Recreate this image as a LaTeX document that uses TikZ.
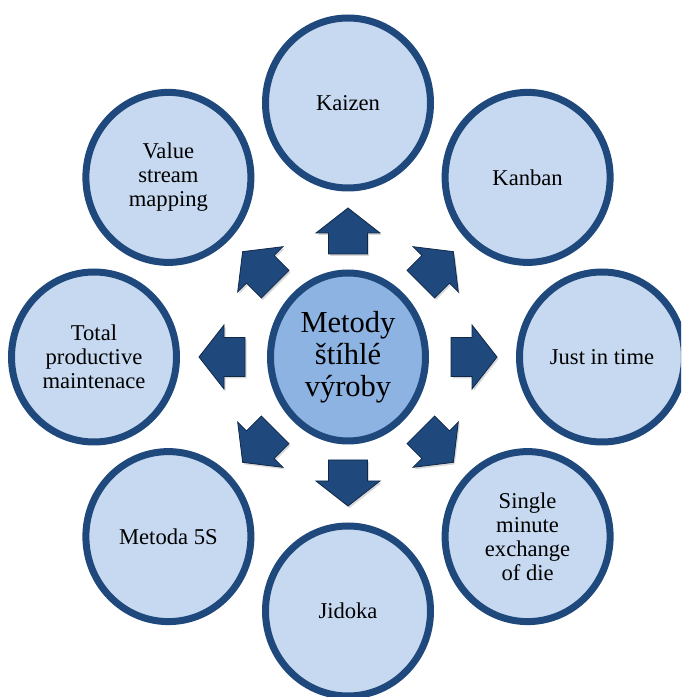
\documentclass[tikz,border=0pt]{standalone}
\usepackage{fontspec}
\setmainfont{Liberation Serif}
\usetikzlibrary{shapes.geometric,shadows}
\definecolor{outerfill}{RGB}{198,217,240}
\definecolor{ringblue}{RGB}{31,73,125}
\definecolor{centerfill}{RGB}{141,179,226}
\definecolor{arrowfill}{RGB}{31,73,125}
\definecolor{arrowline}{RGB}{16,40,72}
\begin{document}
\begin{tikzpicture}[x=1pt,y=1pt,
  softshadow/.style={drop shadow={opacity=0.22, shadow xshift=1.5pt, shadow yshift=-3pt}},
  outernode/.style={ellipse, draw=ringblue, line width=7pt, fill=outerfill,
    minimum width=165pt, minimum height=170pt, inner sep=0pt, align=center,
    font=\fontsize{22.6}{24}\selectfont, softshadow},
  centernode/.style={ellipse, draw=ringblue, line width=7pt, fill=centerfill,
    minimum width=155pt, minimum height=168pt, inner sep=0pt, align=center,
    font=\fontsize{30.5}{32}\selectfont, softshadow},
  blockarrow/.style={fill=arrowfill, draw=arrowline, line width=0.8pt, line join=miter,
    drop shadow={opacity=0.3, shadow xshift=1.5pt, shadow yshift=-2pt}}]
\useasboundingbox (0,0) rectangle (681,697);
\clip (0,0) rectangle (681,697);
\fill[white] (0,0) rectangle (681,697);

\node[centernode] (c) at (348,340) {Metody\\štíhlé\\výroby};

\node[outernode] (kaizen) at ([shift={(90:254)}]348,340) {Kaizen};
\node[outernode] (kanban) at ([shift={(45:254)}]348,340) {Kanban};
\node[outernode] (jit) at ([shift={(0:254)}]348,340) {Just in time};
\node[outernode] (smed) at ([shift={(-45:254)}]348,340) {Single\\minute\\exchange\\of die};
\node[outernode] (jidoka) at ([shift={(-90:254)}]348,340) {Jidoka};
\node[outernode] (fives) at ([shift={(-135:254)}]348,340) {Metoda 5S};
\node[outernode] (tpm) at ([shift={(180:254)}]348,340) {Total\\productive\\maintenace};
\node[outernode] (vsm) at ([shift={(135:254)}]348,340) {Value\\stream\\mapping};

\foreach \ang in {0,45,90,135,180,225,270,315}{
  \begin{scope}[shift={(c.center)}, rotate=\ang]
    \draw[blockarrow] (103,-19.5) -- (124,-19.5) -- (124,-32) -- (149,0)
      -- (124,32) -- (124,19.5) -- (103,19.5) -- cycle;
  \end{scope}
}
\end{tikzpicture}
\end{document}
